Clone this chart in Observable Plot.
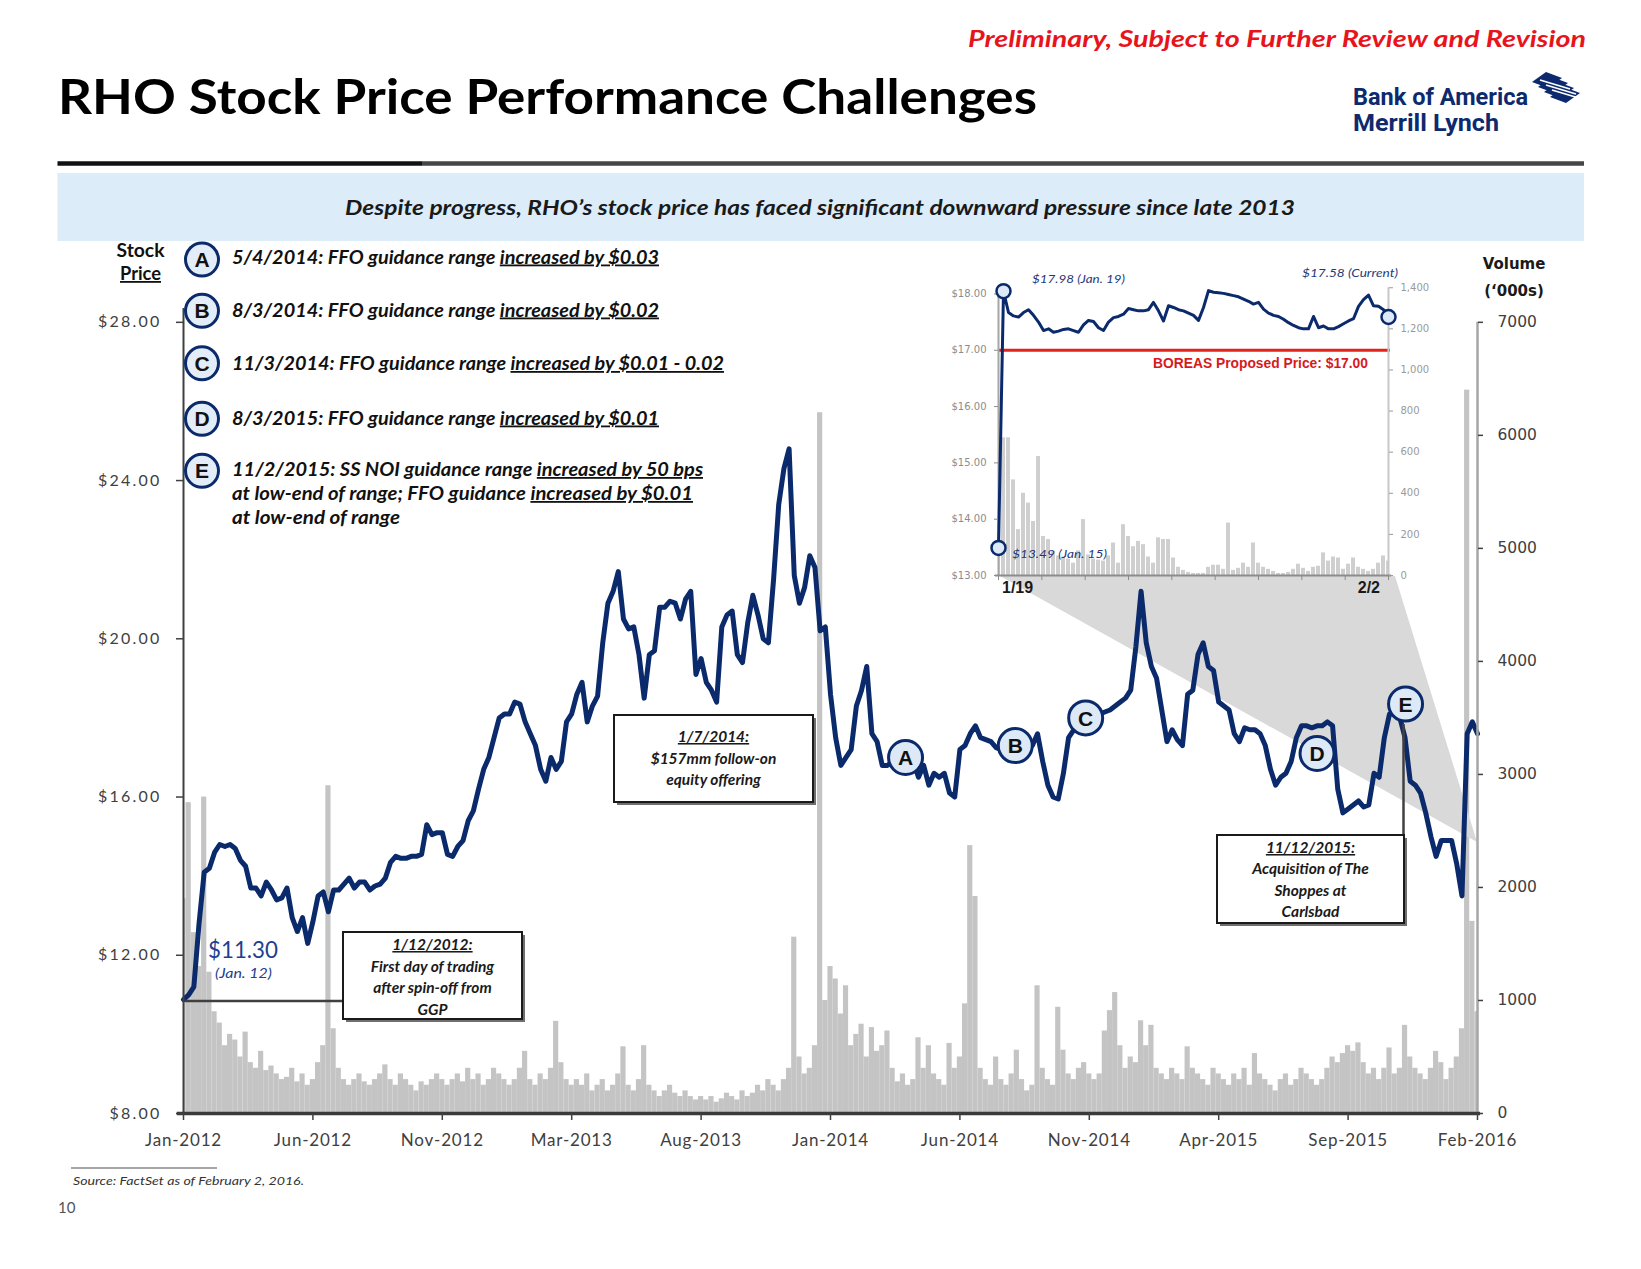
<!DOCTYPE html>
<html><head><meta charset="utf-8">
<script src="https://cdn.jsdelivr.net/npm/d3@7"></script>
<script src="https://cdn.jsdelivr.net/npm/@observablehq/plot@0.6"></script>
<style>
body{margin:0;background:#fff;}
#page{position:relative;width:1641px;height:1269px;overflow:hidden;background:#fff;}
</style></head><body><div id="page"></div>
<script>
// ---------------- DATA ----------------
const xTickLabels = ["Jan-2012","Jun-2012","Nov-2012","Mar-2013","Aug-2013","Jan-2014","Jun-2014","Nov-2014","Apr-2015","Sep-2015","Feb-2016"];
const priceTicks = [8, 12, 16, 20, 24, 28];
const volumeTicks = [0, 1000, 2000, 3000, 4000, 5000, 6000, 7000];

// RHO closing price, equally spaced in trading time (Jan 12 2012 .. Feb 2 2016)
const price = [
 10.88,11.0,11.2,12.8,14.1,14.2,14.6,14.8,14.75,14.8,14.7,14.4,14.25,13.7,13.7,13.5,13.85,13.65,13.4,13.45,13.7,12.95,12.6,12.95,12.3,
 12.85,13.5,13.6,13.1,13.65,13.65,13.8,13.95,13.7,13.85,13.85,13.65,13.75,13.8,13.95,14.35,14.5,14.45,14.45,14.5,14.5,14.55,15.3,15.05,15.1,
 15.1,14.55,14.5,14.75,14.9,15.4,15.65,16.2,16.7,17.0,17.5,18.0,18.1,18.1,18.4,18.35,17.9,17.6,17.3,16.7,16.4,17.0,16.7,16.9,17.9,
 18.1,18.6,18.9,17.9,18.3,18.55,19.9,20.9,21.2,21.7,20.5,20.25,20.3,19.6,18.5,19.6,19.7,20.8,20.8,20.95,20.9,20.5,21.0,21.2,19.1,
 19.5,18.9,18.7,18.4,20.3,20.6,20.7,19.6,19.4,20.4,21.1,20.6,20.0,19.9,21.5,23.4,24.3,24.8,21.6,20.9,21.3,22.1,21.8,20.2,20.3,
 18.6,17.5,16.8,17.0,17.2,18.3,18.7,19.3,17.6,17.4,16.8,16.8,16.9,16.85,16.75,16.8,16.9,16.5,16.8,16.3,16.6,16.5,16.6,16.1,16.0,
 17.2,17.3,17.6,17.8,17.5,17.45,17.4,17.25,17.2,17.1,17.1,17.1,17.15,17.2,17.3,17.6,16.9,16.3,16.0,15.95,16.6,17.5,17.7,17.8,17.85,
 18.0,18.1,18.1,18.15,18.2,18.3,18.4,18.5,18.7,19.8,21.2,19.9,19.3,19.0,18.2,17.4,17.7,17.45,17.3,18.6,18.7,19.6,19.9,19.3,19.2,
 18.4,18.3,18.2,17.6,17.4,17.75,17.7,17.7,17.6,17.3,16.7,16.3,16.5,16.6,16.9,17.5,17.8,17.8,17.75,17.8,17.8,17.9,17.8,16.2,15.6,
 15.7,15.8,15.9,15.75,15.8,16.6,16.5,17.5,18.1,18.1,18.0,17.5,16.4,16.3,16.1,15.6,15.0,14.5,14.9,14.9,14.9,14.3,13.5,17.6,17.9,
 17.6
];
// Volume ('000s), same spacing
const volume = [
 1900,2750,1600,1300,2800,1250,900,800,600,700,650,500,720,450,400,550,380,420,350,300,320,400,280,350,250,300,
 450,600,2900,750,400,300,250,300,350,280,250,300,350,430,300,250,350,300,250,200,280,250,300,350,300,
 250,300,350,280,400,300,350,250,300,400,350,300,250,300,400,550,300,250,350,300,400,815,450,300,250,
 300,250,350,200,250,300,200,250,350,590,250,200,300,600,250,200,150,200,250,180,150,200,150,120,150,
 120,150,100,130,180,150,120,200,150,180,250,200,300,250,200,300,400,1560,500,350,400,600,6200,1000,1300,
 1190,880,1130,600,700,790,500,760,550,600,730,400,280,350,250,300,670,400,600,350,300,250,620,400,500,
 970,2370,1920,400,300,250,500,300,250,350,560,300,200,250,1130,400,300,250,940,560,350,300,400,450,350,
 300,350,730,910,1070,600,400,500,450,820,600,780,400,350,300,400,350,300,590,400,350,300,250,400,350,
 300,250,350,300,400,250,530,350,300,250,200,300,350,250,300,400,350,300,250,300,400,500,450,530,600,
 550,625,450,350,400,300,400,580,350,400,780,500,400,350,300,400,550,450,300,400,500,750,6400,1700,900
];

const eventLabels = ["A","B","C","D","E"];
const eventIndex  = [139.5, 160.7, 174.3, 219.0, 236.1];
const eventPrice  = [17.0, 17.3, 18.0, 17.1, 18.35];
const eventNotes = [
  ["5/4/2014: FFO guidance range ", "increased by $0.03"],
  ["8/3/2014: FFO guidance range ", "increased by $0.02"],
  ["11/3/2014: FFO guidance range ", "increased by $0.01 - 0.02"],
  ["8/3/2015: FFO guidance range ", "increased by $0.01"],
  ["11/2/2015: SS NOI guidance range ", "increased by 50 bps"],
  ["at low-end of range; FFO guidance ", "increased by $0.01"],
  ["at low-end of range", ""]
];
const calloutTexts = [
  ["1/12/2012:", "First day of trading", "after spin-off from", "GGP"],
  ["1/7/2014:", "$157mm follow-on", "equity offering"],
  ["11/12/2015:", "Acquisition of The", "Shoppes at", "Carlsbad"]
];

// Inset: Jan 15 2016 .. Feb 2 2016
const insetPrice = [
 13.49,18.05,17.67,17.61,17.59,17.67,17.72,17.62,17.50,17.35,
 17.38,17.32,17.34,17.37,17.38,17.35,17.32,17.45,17.53,17.51,
 17.40,17.35,17.50,17.58,17.60,17.64,17.74,17.72,17.70,17.70,
 17.72,17.85,17.70,17.52,17.79,17.76,17.72,17.70,17.66,17.62,
 17.53,17.76,18.06,18.03,18.02,18.01,17.99,17.97,17.95,17.91,
 17.87,17.82,17.85,17.73,17.66,17.62,17.60,17.55,17.49,17.44,
 17.40,17.38,17.38,17.60,17.40,17.43,17.38,17.38,17.42,17.47,
 17.52,17.56,17.78,17.90,17.98,17.79,17.78,17.72,17.59
];
const insetVolume = [
 150,670,670,465,223,400,352,263,579,190,
 175,118,95,90,80,60,120,272,100,80,
 75,70,95,158,60,247,190,140,166,150,
 90,60,183,175,175,85,40,25,15,10,
 10,10,40,50,50,30,255,25,35,60,
 40,158,60,40,30,20,10,10,15,30,
 55,35,20,40,45,110,70,90,85,30,
 55,85,40,30,20,30,60,95,70
];
const insetPriceTicks = [13, 14, 15, 16, 17, 18];
const insetVolumeTicks = [0, 200, 400, 600, 800, 1000, 1200, 1400];
const boreasPrice = 17.00;
const insetNotes = ["$17.98 (Jan. 19)", "$13.49 (Jan. 15)", "$17.58 (Current)"];

// ---------------- LAYOUT ----------------
const W = 1641, H = 1269;
const navy = "#0a2a6c";
const page = document.getElementById("page");
const n = price.length - 1;
const tickStep = n / (xTickLabels.length - 1);
const volToPrice = v => 8 + v * 20 / 7000;
const priceData = price.map((p, i) => ({i, p}));
const volData = volume.map((v, i) => ({i, v}));
const evData = eventLabels.map((label, k) => ({label, i: eventIndex[k], p: eventPrice[k]}));

const main = Plot.plot({
  width: W, height: H,
  marginLeft: 183, marginRight: 164, marginTop: 306, marginBottom: 156,
  x: {domain: [0, n]},
  y: {domain: [8, 28.4]},
  style: {background: "transparent", overflow: "visible"},
  marks: [
    Plot.rect(volData, {x1: d => Math.max(0, d.i - 0.5), x2: d => Math.min(n, d.i + 0.5), y1: 8, y2: d => volToPrice(d.v), fill: "#c4c4c4"}),
    Plot.line(priceData, {x: "i", y: "p", stroke: navy, strokeWidth: 5, strokeLinejoin: "round", strokeLinecap: "round"}),
    Plot.ruleX([0], {y1: 8, y2: 28.35, stroke: "#404040", strokeWidth: 2}),
    Plot.ruleX([n], {y1: 8, y2: 28, stroke: "#a6a6a6", strokeWidth: 2.5}),
    Plot.ruleY([8], {x1: -1.2, x2: n + 0.6, stroke: "#3a3a3a", strokeWidth: 3.5}),
    Plot.axisY({ticks: priceTicks, tickFormat: d => "$" + d.toFixed(2), tickSize: 7, tickPadding: 15, fontSize: 16, fontFamily: "Lato", color: "#404040", strokeWidth: 1.5, label: null}),
    Plot.axisY({anchor: "right", ticks: volumeTicks.map(volToPrice), tickFormat: d => String(Math.round((d - 8) * 350)), tickSize: 5, tickPadding: 15, fontSize: 15.5, fontFamily: "DejaVu Sans", color: "#404040", strokeWidth: 1.5, label: null}),
    Plot.axisX({ticks: d3.range(xTickLabels.length).map(k => k * tickStep), tickFormat: d => xTickLabels[Math.round(d / tickStep)], tickSize: 7, tickPadding: 13, fontSize: 17, fontFamily: "Lato", color: "#404040", strokeWidth: 1.5, label: null}),
    Plot.dot(evData, {x: "i", y: "p", r: 17, fill: "#dde9f6", stroke: navy, strokeWidth: 3}),
    Plot.text(evData, {x: "i", y: "p", text: "label", fontSize: 21, fontWeight: "bold", fontFamily: "Liberation Sans", fill: "#111", dy: 1})
  ]
});
main.style.position = "absolute"; main.style.left = "0px"; main.style.top = "0px";
page.appendChild(main);
d3.select(main).selectAll('g[aria-label="x-axis tick label"] text').style("letter-spacing", "0.8px");
d3.select(main).selectAll('g[aria-label="y-axis tick label"] text')
  .filter(function() { return this.textContent.startsWith("$"); })
  .style("letter-spacing", "2.2px");

// ---- inset ----
const IN = {left: 900, top: 250, width: 560, height: 360};
const iN = insetPrice.length - 1;
const volToInset = v => 13 + v * 5.11 / 1400;
const insetData = insetPrice.map((p, k) => ({k, p}));
const insetVolData = insetVolume.map((v, k) => ({k, v}));
const insetMarks = [0, 1, iN].map(k => ({k, p: insetPrice[k]}));
const inset = Plot.plot({
  width: IN.width, height: IN.height,
  marginLeft: 98, marginRight: 72, marginTop: 35, marginBottom: 35,
  x: {domain: [0, iN]},
  y: {domain: [13, 18.15]},
  style: {background: "transparent", overflow: "visible"},
  marks: [
    Plot.rect(insetVolData, {x1: d => Math.max(0, d.k - 0.4), x2: d => Math.min(iN, d.k + 0.4), y1: 13, y2: d => volToInset(d.v), fill: "#cfcfcf"}),
    Plot.ruleY([boreasPrice], {x1: 0, x2: iN + 0.4, stroke: "#e2231a", strokeWidth: 3}),
    Plot.ruleX([0], {y1: 13, y2: 18.1, stroke: "#a6a6a6", strokeWidth: 2}),
    Plot.ruleX([iN], {y1: 13, y2: 18.11, stroke: "#c8c8c8", strokeWidth: 2}),
    Plot.ruleY([13], {x1: -0.6, x2: iN + 0.6, stroke: "#8c8c8c", strokeWidth: 2}),
    Plot.line(insetData, {x: "k", y: "p", stroke: navy, strokeWidth: 3, strokeLinejoin: "round"}),
    Plot.axisY({ticks: insetPriceTicks, tickFormat: d => "$" + d.toFixed(2), tickSize: 4, tickPadding: 8, fontSize: 10, fontFamily: "DejaVu Sans", color: "#8c8c8c", label: null}),
    Plot.axisY({anchor: "right", ticks: insetVolumeTicks.map(volToInset), tickFormat: d => d3.format(",")(Math.round((d - 13) / 5.11 * 1400)), tickSize: 4, tickPadding: 8, fontSize: 10, fontFamily: "DejaVu Sans", color: "#9a9a9a", label: null}),
    Plot.axisX({ticks: d3.range(10).map(j => j * iN / 9), tickFormat: () => "", tickSize: 5, color: "#8c8c8c", label: null}),
    Plot.dot(insetMarks, {x: "k", y: "p", r: 7, fill: "#dde9f6", stroke: navy, strokeWidth: 2.5})
  ]
});
inset.style.position = "absolute"; inset.style.left = IN.left + "px"; inset.style.top = IN.top + "px";
page.appendChild(inset);

// ---- zoom wedge (connects inset to last weeks of main chart) ----
{
  const xm = main.scale("x"), ym = main.scale("y");
  const xi = inset.scale("x"), yi = inset.scale("y");
  const topY = IN.top + yi.apply(13) + 1;
  const left = IN.left + xi.apply(0) + 2, right = IN.left + xi.apply(iN) + 7;
  const ax = xm.apply(n), ay = ym.apply(14.85);
  const lineG = main.querySelector('g[aria-label="line"]');
  const poly = document.createElementNS("http://www.w3.org/2000/svg", "polygon");
  poly.setAttribute("points", `${left},${topY} ${right},${topY} ${ax},${ay}`);
  poly.setAttribute("fill", "#d9d9d9");
  lineG.parentNode.insertBefore(poly, lineG);
}

// ---- overlay: titles, notes, callouts ----
const ov = d3.select(page).append("svg").attr("width", W).attr("height", H)
  .style("position", "absolute").style("left", "0px").style("top", "0px");

function addText(x, y, parts, a = {}) {
  const t = ov.append("text").attr("x", x).attr("y", y)
    .attr("font-family", a.family || "Lato").attr("font-size", a.size || 16)
    .attr("font-weight", a.weight || "normal").attr("font-style", a.style || "normal")
    .attr("fill", a.fill || "#111").attr("text-anchor", a.anchor || "start");
  if (a.length) t.attr("textLength", a.length).attr("lengthAdjust", "spacingAndGlyphs");
  (Array.isArray(parts) ? parts : [parts]).forEach((p, k) => {
    if (!p) return;
    const s = t.append("tspan").text(p);
    if ((a.underline === "odd" && k % 2 === 1) || a.underline === "all") s.style("text-decoration", "underline");
  });
  return t;
}

// header
addText(1586, 47, "Preliminary, Subject to Further Review and Revision", {size: 23, weight: 700, style: "italic", fill: "#e8141c", anchor: "end", length: 618});
addText(58, 114, "RHO Stock Price Performance Challenges", {size: 47, weight: 700, fill: "#000", length: 979});
addText(1353, 105, "Bank of America", {family: "Roboto", size: 24, weight: 700, fill: "#0d2a6e", length: 175});
addText(1353, 131, "Merrill Lynch", {family: "Roboto", size: 24, weight: 700, fill: "#0d2a6e", length: 146});
// flag emblem
{
  const g = ov.append("g").attr("fill", "#0d2a6e");
  for (let k = 0; k < 4; k++) {
    const ox = 1532 + k * 6, oy = 86 + k * 5;
    g.append("polygon").attr("points", `${ox},${oy} ${ox + 14},${oy - 10} ${ox + 30},${oy - 4} ${ox + 16},${oy + 6}`)
      .attr("transform", `translate(0,${-4})`);
  }
  for (let k = 0; k < 3; k++) {
    ov.append("line").attr("x1", 1540 + k * 6).attr("y1", 80 + k * 5).attr("x2", 1570 + k * 6).attr("y2", 89 + k * 5)
      .attr("stroke", "#fff").attr("stroke-width", 1.6);
  }
}
// rule and band
ov.append("line").attr("x1", 57.5).attr("x2", 422).attr("y1", 163.5).attr("y2", 163.5).attr("stroke", "#111").attr("stroke-width", 4.5);
ov.append("line").attr("x1", 422).attr("x2", 1584).attr("y1", 163.5).attr("y2", 163.5).attr("stroke", "#454545").attr("stroke-width", 4.5);
ov.append("rect").attr("x", 57.5).attr("y", 173).attr("width", 1526.5).attr("height", 68).attr("fill", "#dcecf8");
addText(820, 215, "Despite progress, RHO\u2019s stock price has faced significant downward pressure since late 2013", {size: 20, weight: 700, style: "italic", fill: "#1a1a1a", anchor: "middle", length: 950});

// axis titles
addText(140.5, 256.5, "Stock", {size: 18, weight: 700, anchor: "middle", length: 48});
addText(140.5, 280, "Price", {size: 18, weight: 700, anchor: "middle", length: 41, underline: "all"});
addText(1514, 269, "Volume", {family: "DejaVu Sans", size: 15, weight: 700, anchor: "middle", fill: "#1a1a1a"});
addText(1514, 296, "(\u2018000s)", {family: "DejaVu Sans", size: 15, weight: 700, anchor: "middle", fill: "#1a1a1a"});

// event list
{
  const circleY = [259.6, 310.8, 363.3, 418.8, 470.8];
  const baseY = [263.5, 316.5, 370, 424.5, 476, 500, 523.5];
  const widths = [427, 427, 492, 427, 471, 461, 168];
  eventLabels.forEach((lab, k) => {
    ov.append("circle").attr("cx", 202).attr("cy", circleY[k]).attr("r", 16.5)
      .attr("fill", "#e3edf8").attr("stroke", navy).attr("stroke-width", 3);
    addText(202, circleY[k] + 7.5, lab, {family: "Liberation Sans", size: 21, weight: 700, anchor: "middle"});
  });
  eventNotes.forEach((parts, k) => {
    addText(232, baseY[k], parts, {size: 18, weight: 700, style: "italic", length: widths[k], underline: "odd"});
  });
}

// price label at first trade
addText(208, 958, "$11.30", {size: 23, fill: "#213f8f", length: 70});
addText(243.5, 978, "(Jan. 12)", {size: 13, style: "italic", fill: "#213f8f", anchor: "middle", length: 57});

// callout boxes
function callout(x, y, w, h, lines, base, lh) {
  ov.append("rect").attr("x", x + 3).attr("y", y + 3).attr("width", w).attr("height", h).attr("fill", "#6f6f6f");
  ov.append("rect").attr("x", x).attr("y", y).attr("width", w).attr("height", h).attr("fill", "#fff").attr("stroke", "#1a1a1a").attr("stroke-width", 2);
  lines.forEach((s, k) => addText(x + w / 2, base + k * lh, s, {size: 15.5, weight: 700, style: "italic", anchor: "middle", fill: "#1a1a1a", underline: k === 0 ? "all" : null}));
}
ov.append("line").attr("x1", 185).attr("x2", 343).attr("y1", 1001).attr("y2", 1001).attr("stroke", "#404040").attr("stroke-width", 2.5);
callout(343, 932, 179, 87, calloutTexts[0], 950, 21.7);
callout(614, 715, 199, 87, calloutTexts[1], 742, 21.5);
ov.append("line").attr("x1", 1403.5).attr("x2", 1403.5).attr("y1", 724).attr("y2", 835).attr("stroke", "#404040").attr("stroke-width", 2.5);
callout(1217, 835, 187, 88, calloutTexts[2], 853, 21.3);

// inset annotations
addText(1032, 283, insetNotes[0], {size: 11.5, style: "italic", fill: "#1f3a7a", length: 93});
addText(1012, 558, insetNotes[1], {size: 11.5, style: "italic", fill: "#1f3a7a", length: 95});
addText(1302, 277, insetNotes[2], {size: 11.5, style: "italic", fill: "#1f3a7a", length: 96});
addText(1153, 368, "BOREAS Proposed Price: $" + boreasPrice.toFixed(2), {family: "Liberation Sans", size: 14, weight: 700, fill: "#d7191c", length: 215});
addText(1002, 593, "1/19", {family: "Liberation Sans", size: 16, weight: 700, fill: "#1a1a1a"});
addText(1380, 593, "2/2", {family: "Liberation Sans", size: 16, weight: 700, fill: "#1a1a1a", anchor: "end"});

// footer
ov.append("line").attr("x1", 71).attr("x2", 217).attr("y1", 1168).attr("y2", 1168).attr("stroke", "#a6a6a6").attr("stroke-width", 2);
addText(73, 1185, "Source: FactSet as of February 2, 2016.", {size: 11, style: "italic", fill: "#333", length: 231});
addText(58, 1213, "10", {size: 15, fill: "#555"});
</script>
</body></html>
